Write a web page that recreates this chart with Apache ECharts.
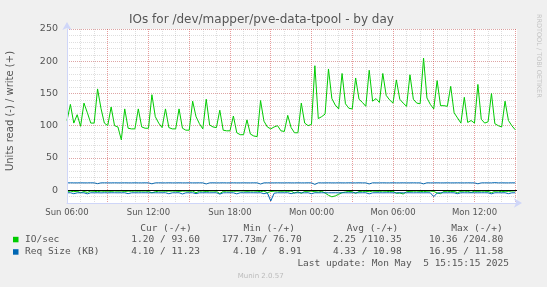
<!DOCTYPE html>
<html><head><meta charset="utf-8">
<script src="https://cdn.jsdelivr.net/npm/echarts@6/dist/echarts.min.js"></script>
<style>html,body{margin:0;padding:0;background:#f0f0f0}#c{width:547px;height:287px}</style>
</head><body><div id="c"></div>
<script>
// ---- data ----
const startHour = 6;      // first sample: Sun 06:00 (hours counted from Sun 00:00)
const stepHours = 0.25;   // 15-minute samples
const windowStart = 6;
const windowEnd = 39.13;  // ~Mon 15:08

const writeIO = [
108,133,104,117,99,135,120,104,104,157,127,104,100,129,100,98,78,126,96,95,
95,126,98,96,96,148,114,104,97,126,97,95,95,126,96,93,93,138,114,103,
95,141,101,98,97,124,93,92,92,115,89,86,86,109,87,84,83,139,107,98,
95,98,100,92,91,116,97,89,89,135,104,100,102,193,111,114,118,188,142,132,
126,181,134,127,126,174,141,136,130,186,138,142,136,181,147,140,135,171,141,135,
130,179,141,135,134,204.8,143,133,126,170,131,131,130,161,120,112,104,144,105,108,
104,164,110,104,106,150,103,100,98,138,108,100,93.6];

const readIO = [
2.0,1.6,2.4,1.8,4.0,2.2,3.5,1.5,1.8,2.6,1.4,1.9,1.6,2.0,1.5,1.7,1.5,2.1,1.6,1.8,
1.5,1.8,1.6,1.5,2.0,4.2,2.5,1.6,1.5,1.8,1.6,1.5,1.7,2.0,1.6,1.5,1.8,1.6,4.0,1.9,
1.5,2.2,1.6,1.5,1.8,5.5,2.0,1.6,1.5,1.8,1.6,1.4,1.5,1.9,1.6,1.5,1.8,2.4,1.5,4.0,
2.2,1.6,1.5,1.8,1.6,2.0,1.5,4.5,2.5,5.0,2.0,1.8,1.6,2.4,3.0,2.0,4.5,8.0,10.36,9.0,
6.5,4.0,3.0,2.0,2.5,5.0,2.2,1.8,2.0,2.4,1.6,1.8,2.0,1.6,1.8,2.2,1.8,5.0,4.5,6.0,
2.5,2.0,1.8,1.6,2.0,2.4,1.8,1.6,2.0,4.5,5.5,2.0,1.8,2.2,2.0,4.0,1.8,1.6,2.0,3.5,
1.8,2.0,1.6,1.8,2.0,4.0,1.8,1.6,2.5,1.8,2.0,1.5,1.2];

const writeReq = [
11.2,11.3,11.2,11.2,11.3,11.2,11.2,11.3,11.2,10.0,11.2,11.3,11.2,11.2,11.3,11.2,11.2,11.3,11.2,11.2,
11.3,11.2,11.2,11.3,11.2,9.8,11.2,11.3,11.2,11.2,11.3,11.2,11.2,11.3,11.2,11.2,11.3,11.2,11.2,11.3,
11.2,9.6,11.2,11.3,11.2,11.2,11.3,11.2,11.2,11.3,11.2,11.2,11.3,11.2,11.2,11.3,11.2,9.5,11.2,11.3,
11.2,11.2,11.3,11.2,11.2,11.3,11.2,11.2,11.3,11.2,11.2,11.3,11.2,8.91,11.3,11.2,11.2,11.3,11.2,11.2,
11.3,11.2,11.2,11.3,11.2,11.2,11.3,11.2,11.2,9.6,11.3,11.2,11.2,11.3,11.2,11.2,11.3,11.2,11.2,11.3,
11.2,11.2,11.3,11.2,11.2,9.7,11.3,11.2,11.2,11.3,11.2,11.2,11.3,11.2,11.2,11.3,11.2,11.2,11.3,11.2,
11.2,9.8,11.2,11.3,11.2,11.2,11.58,11.2,11.3,11.2,11.2,11.3,11.23];

const readReq = [
4.2,4.1,5.6,4.2,4.1,4.2,5.8,4.1,4.2,4.1,4.3,4.1,4.2,4.1,4.1,4.2,4.1,4.1,5.5,4.2,
4.1,4.2,4.1,4.1,4.2,4.1,4.1,4.2,4.1,4.1,5.6,4.2,4.1,4.1,6.0,4.2,4.1,4.1,5.5,4.2,
4.1,4.1,4.2,4.1,4.1,6.2,4.2,4.1,4.1,4.2,5.8,4.1,4.1,4.2,4.1,4.1,4.2,4.1,5.6,4.2,
16.95,4.8,4.1,4.2,4.1,4.1,5.5,4.2,4.1,4.1,4.2,4.1,5.6,4.1,4.2,4.1,4.1,4.2,4.1,4.1,
4.2,4.1,4.1,4.2,4.1,4.1,4.2,4.1,4.1,5.8,4.2,4.1,4.1,4.2,4.1,4.1,4.2,4.1,4.1,4.2,
4.1,4.1,4.2,4.1,4.1,4.2,4.1,4.2,10.2,4.6,4.1,4.2,4.1,4.1,4.2,5.6,4.1,4.1,4.2,4.1,
4.1,4.2,4.1,4.1,4.2,5.8,4.1,4.1,4.2,4.1,5.5,4.2,4.1];

const xTickLabels = {6:'Sun 06:00',12:'Sun 12:00',18:'Sun 18:00',24:'Mon 00:00',30:'Mon 06:00',36:'Mon 12:00'};
const yTickStep = 50;

const legendNames = ['IO/sec', 'Req Size (KB)'];
const legendHeaders = ['Cur (-/+)', 'Min (-/+)', 'Avg (-/+)', 'Max (-/+)'];
const ioStats  = ['1.20 / 93.60', '177.73m/ 76.70', '2.25 /110.35', '10.36 /204.80'];
const reqStats = ['4.10 / 11.23', '4.10 /  8.91', '4.33 / 10.98', '16.95 / 11.58'];
const titleText = 'IOs for /dev/mapper/pve-data-tpool - by day';
const yName = 'Units read (-) / write (+)';
const lastUpdate = 'Last update: Mon May  5 15:15:15 2025';
const version = 'Munin 2.0.57';
const watermark = 'RRDTOOL / TOBI OETIKER';

// ---- styles ----
const GREEN = '#00cc00', BLUE = '#0066b3';
const AXIS = '#cfd6f8', FONT = '#555555';
const MINOR = 'rgba(128,128,128,0.26)', MAJOR = 'rgba(255,0,0,0.3)';

const toPairs = (arr, sign) => arr.map((v, i) => [startHour + i * stepHours, sign * v]);

const hiddenX = (grid, interval, color) => ({
  gridIndex: grid, type: 'value', min: windowStart, max: windowEnd, interval: interval,
  axisLine: {show: false}, axisTick: {show: false}, axisLabel: {show: false},
  splitLine: color ? {show: true, showMinLine: false, showMaxLine: false,
    lineStyle: {color: color, type: [1, 1], width: 1}} : {show: false}
});

const mono = 'DejaVu Sans Mono';
const colX = [200, 301.7, 401.7, 503.3];
const hdrX = [191.7, 295, 398.3, 502.7];
const txt = (x, y, text, opt) => Object.assign({
  type: 'text', x: x, y: y, silent: true,
  style: Object.assign({text: text, fill: FONT, font: '9.5px "' + mono + '"',
    textAlign: 'left', textVerticalAlign: 'middle', align: 'left', verticalAlign: 'middle'}, opt || {})
});
const graphics = [];
graphics.push(txt(261.5, 20, titleText, {font: '12px "DejaVu Sans"', textAlign: 'center', align: 'center'}));
graphics.push({type: 'text', x: 10, y: 111, rotation: Math.PI / 2, silent: true,
  style: {text: yName, fill: FONT, font: '10px "DejaVu Sans"', textAlign: 'center', align: 'center',
    textVerticalAlign: 'middle', verticalAlign: 'middle'}});
graphics.push({type: 'text', x: 539, y: 14, rotation: -Math.PI / 2, silent: true,
  style: {text: watermark, fill: '#c4c4c4', font: '6.5px "DejaVu Sans"', textAlign: 'left', align: 'left',
    textVerticalAlign: 'middle', verticalAlign: 'middle'}});
legendHeaders.forEach((h, i) => graphics.push(txt(hdrX[i], 228.3, h, {textAlign: 'right', align: 'right'})));
[[GREEN, 239.3, ioStats], [BLUE, 251.7, reqStats]].forEach((row, r) => {
  graphics.push({type: 'rect', silent: true, shape: {x: 13, y: row[1] - 2.5, width: 5.5, height: 5.5}, style: {fill: row[0]}});
  graphics.push(txt(25, row[1], legendNames[r]));
  row[2].forEach((s, i) => graphics.push(txt(colX[i], row[1], s, {textAlign: 'right', align: 'right'})));
});
graphics.push(txt(509, 263.7, lastUpdate, {textAlign: 'right', align: 'right'}));
graphics.push(txt(260.7, 276, version, {font: '7px "DejaVu Sans"', fill: '#bbbbbb', textAlign: 'center', align: 'center'}));

const lineSeries = (name, data, color, extra) => Object.assign({
  name: name, type: 'line', xAxisIndex: 0, yAxisIndex: 0, data: data,
  showSymbol: false, symbol: 'none', lineStyle: {color: color, width: 1}, itemStyle: {color: color},
  animation: false, silent: true, z: 3
}, extra || {});

const chart = echarts.init(document.getElementById('c'), null, {renderer: 'canvas'});
chart.setOption({
  backgroundColor: '#f0f0f0',
  animation: false,
  grid: [
    {left: 67, right: 30, top: 29, bottom: 84, show: true, backgroundColor: '#ffffff', borderWidth: 0},
    {left: 67, right: 30, top: 29, bottom: 96.89, show: false}
  ],
  xAxis: [
    {gridIndex: 0, type: 'value', min: windowStart, max: windowEnd, interval: 6, z: 5,
      axisLine: {show: true, onZero: false, lineStyle: {color: AXIS, width: 1},
        symbol: ['none', 'arrow'], symbolSize: [7, 8], symbolOffset: [0, 5]},
      axisTick: {show: false}, splitLine: {show: false},
      axisLabel: {formatter: v => xTickLabels[v] || '', color: FONT, fontSize: 8.5,
        fontFamily: 'DejaVu Sans', margin: 5}},
    hiddenX(0, 1, MINOR),
    hiddenX(0, 3, MAJOR),
    hiddenX(1, 6, null)
  ],
  yAxis: [
    {gridIndex: 0, type: 'value', min: -20, max: 250, interval: 10, z: 5,
      axisLine: {show: true, onZero: false, lineStyle: {color: AXIS, width: 1},
        symbol: ['none', 'arrow'], symbolSize: [7, 8], symbolOffset: [0, 7]},
      axisTick: {show: false},
      axisLabel: {formatter: v => (v >= 0 && v % yTickStep === 0) ? String(v) : '',
        color: FONT, fontSize: 9.5, fontFamily: 'DejaVu Sans', margin: 9},
      splitLine: {show: true, showMinLine: false, showMaxLine: true, lineStyle: {color: MINOR, type: [1, 1], width: 1}}},
    {gridIndex: 1, type: 'value', min: 0, max: 250, interval: yTickStep, z: 1,
      axisLine: {show: false}, axisTick: {show: false}, axisLabel: {show: false},
      splitLine: {show: true, showMinLine: true, showMaxLine: true, lineStyle: {color: MAJOR, type: [1, 1], width: 1}}}
  ],
  series: [
    lineSeries('IO/sec read', toPairs(readIO, -1), GREEN),
    lineSeries('IO/sec write', toPairs(writeIO, 1), GREEN),
    lineSeries('Req read', toPairs(readReq, -1), BLUE),
    lineSeries('Req write', toPairs(writeReq, 1), BLUE, {
      markLine: {silent: true, symbol: 'none', label: {show: false}, animation: false,
        lineStyle: {color: '#000000', type: 'solid', width: 1}, data: [{yAxis: 0}]}
    })
  ],
  graphic: graphics
});
</script></body></html>
